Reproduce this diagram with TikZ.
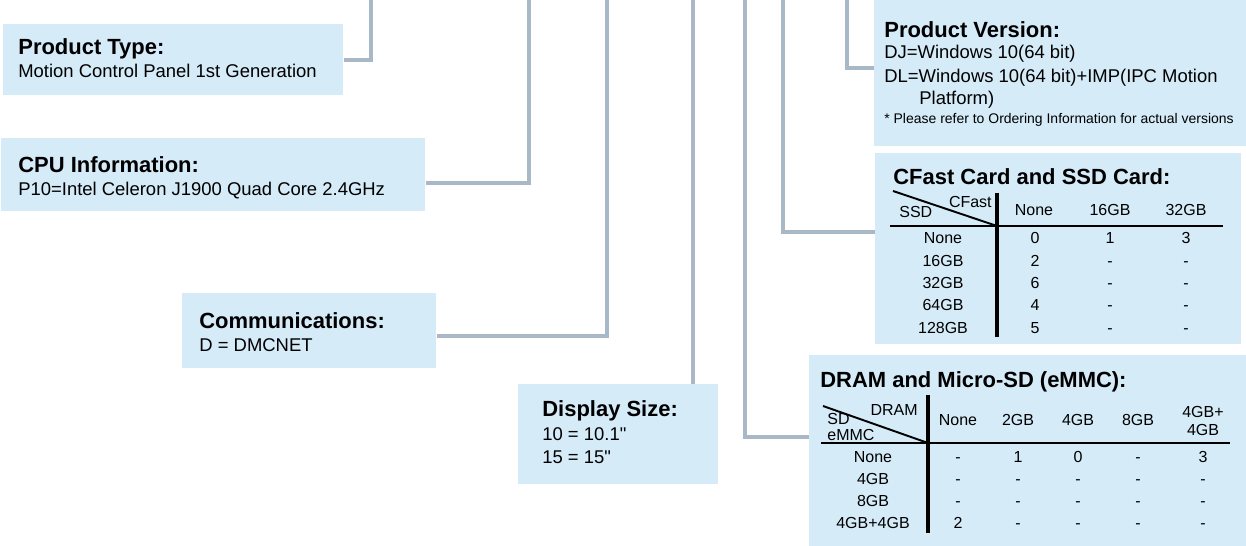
\documentclass[tikz,border=0pt]{standalone}
\usepackage{fontspec}
\setmainfont{Liberation Sans}
\usepackage{xcolor}
\usepackage{tikz}
\usetikzlibrary{positioning}
\definecolor{boxblue}{RGB}{213,235,248}
\definecolor{linkgray}{RGB}{168,184,199}
\newcommand\boxtitle{\fontsize{12.5}{15}\selectfont\bfseries}
\newcommand\leftbody{\fontsize{10.5}{13}\selectfont}
\newcommand\rightbody{\fontsize{9.1}{11}\selectfont}
\newcommand\notetext{\fontsize{7.95}{9.5}\selectfont}
\tikzset{
  infobox/.style 2 args={fill=boxblue, inner sep=0pt, anchor=north west,
    minimum width=#1*0.02cm, minimum height=#2*0.02cm},
  link/.style={draw=linkgray, line width=2.4pt},
  heading/.style={anchor=base west, inner sep=0pt, font=\boxtitle},
  ltext/.style={anchor=base west, inner sep=0pt, font=\leftbody},
  cell/.style={anchor=base, inner sep=0pt, font=\rightbody},
  tabrule/.style={line width=1.5pt}
}
\begin{document}
\begin{tikzpicture}[x=0.02cm, y=-0.02cm]
  \useasboundingbox (0,0) rectangle (1246,546);

  % top ends and bends of the connectors
  \coordinate (t1) at (371,0);
  \coordinate (t2) at (529,0);
  \coordinate (t3) at (607,0);
  \coordinate (t4) at (693,0);
  \coordinate (t5) at (745,0);
  \coordinate (t6) at (783,0);
  \coordinate (t7) at (847,0);
  \coordinate (b2) at (529,183);
  \coordinate (b3) at (607,336);
  \coordinate (b5) at (745,437);
  \coordinate (b6) at (783,232);
  \coordinate (b7) at (847,68);

  % boxes
  \node[infobox={340}{71}] (ptype) at (3,24) {};
  \node[infobox={424}{73}] (cpu) at (1,138) {};
  \node[infobox={254}{75}] (comm) at (182,293) {};
  \node[infobox={200}{100}] (disp) at (518,384) {};
  \node[infobox={372}{146}] (pver) at (874,0) {};
  \node[infobox={366}{191}] (cfast) at (875,153) {};
  \node[infobox={437}{191}] (dram) at (809,355) {};

  % connectors
  \draw[link] (ptype.east) -| (t1);
  \draw[link] (b2 -| cpu.east) -- (b2) -- (t2);
  \draw[link] (b3 -| comm.east) -- (b3) -- (t3);
  \draw[link] (t4 |- disp.north) -- (t4);
  \draw[link] (b5 -| dram.west) -- (b5) -- (t5);
  \draw[link] (b6 -| cfast.west) -- (b6) -- (t6);
  \draw[link] (b7 -| pver.west) -- (b7) -- (t7);

  % left side
  \node[heading] (ptype-h) at (18,55) {Product Type:};
  \node[ltext] (ptype-a) at (18,78) {Motion Control Panel 1st Generation};
  \node[heading] (cpu-h) at (18,173) {CPU Information:};
  \node[ltext] (cpu-a) at (18,196) {P10=Intel Celeron J1900 Quad Core 2.4GHz};
  \node[heading] (comm-h) at (199,329) {Communications:};
  \node[ltext] (comm-a) at (199,352) {D = DMCNET};
  \node[heading] (disp-h) at (542,417) {Display Size:};
  \node[ltext] (disp-a) at (542,440) {10 = 10.1\textquotedbl};
  \node[ltext] (disp-b) at (542,463) {15 = 15\textquotedbl};

  % product version
  \node[heading] (pver-h) at (884,38) {Product Version:};
  \node[ltext] (pver-a) at (884,59) {DJ=Windows 10(64 bit)};
  \node[ltext] (pver-b) at (884,83) {DL=Windows 10(64 bit)+IMP(IPC Motion};
  \node[ltext] (pver-c) at (919,105) {Platform)};
  \node[anchor=base west, inner sep=0pt, font=\notetext] (pver-n) at (884,124)
    {* Please refer to Ordering Information for actual versions};

  % CFast / SSD table
  \node[heading] (cfast-h) at (893,185) {CFast Card and SSD Card:};
  \draw[tabrule] (890,226) -- (1223,226);
  \draw[tabrule, line width=1.8pt] (997,193) -- (997,337);
  \draw[line width=1.1pt] (893,191) -- (997,226);
  \node[cell, anchor=base east] (cf-col) at (992,208) {CFast};
  \node[cell, anchor=base west] (cf-row) at (899,218) {SSD};
  \node[cell] (cf-c1) at (1034,216) {None};
  \node[cell] (cf-c2) at (1110,216) {16GB};
  \node[cell] (cf-c3) at (1186,216) {32GB};
  \foreach \lab/\va/\vb/\vc [count=\i from 0] in
    {None/0/1/3, 16GB/2/-/-, 32GB/6/-/-, 64GB/4/-/-, 128GB/5/-/-}{
    \pgfmathsetmacro\yy{244+22.3*\i}
    \node[cell] (cf-r\i) at (943,\yy) {\lab};
    \node[cell] (cf-r\i-1) at (1035,\yy) {\va};
    \node[cell] (cf-r\i-2) at (1110,\yy) {\vb};
    \node[cell] (cf-r\i-3) at (1186,\yy) {\vc};
  }

  % DRAM / eMMC table
  \node[heading] (dram-h) at (820,388) {DRAM and Micro-SD (eMMC):};
  \draw[tabrule] (821,443) -- (1230,443);
  \draw[tabrule, line width=1.8pt] (928,395) -- (928,533);
  \draw[line width=1.1pt] (823,406) -- (928,443);
  \node[cell, anchor=base east] (dr-col) at (918,416) {DRAM};
  \node[cell, anchor=base west] (dr-row1) at (827,425) {SD};
  \node[cell, anchor=base west] (dr-row2) at (827,440) {eMMC};
  \node[cell] (dr-c1) at (958,426) {None};
  \node[cell] (dr-c2) at (1018,426) {2GB};
  \node[cell] (dr-c3) at (1078,426) {4GB};
  \node[cell] (dr-c4) at (1138,426) {8GB};
  \node[cell] (dr-c5a) at (1203,418) {4GB+};
  \node[cell] (dr-c5b) at (1203,436) {4GB};
  \foreach \lab/\va/\vb/\vc/\vd/\ve [count=\i from 0] in
    {None/-/1/0/-/3, 4GB/-/-/-/-/-, 8GB/-/-/-/-/-, 4GB+4GB/2/-/-/-/-}{
    \pgfmathsetmacro\yy{462+22.3*\i}
    \node[cell] (dr-r\i) at (873,\yy) {\lab};
    \node[cell] (dr-r\i-1) at (958,\yy) {\va};
    \node[cell] (dr-r\i-2) at (1018,\yy) {\vb};
    \node[cell] (dr-r\i-3) at (1078,\yy) {\vc};
    \node[cell] (dr-r\i-4) at (1138,\yy) {\vd};
    \node[cell] (dr-r\i-5) at (1203,\yy) {\ve};
  }
\end{tikzpicture}
\end{document}
